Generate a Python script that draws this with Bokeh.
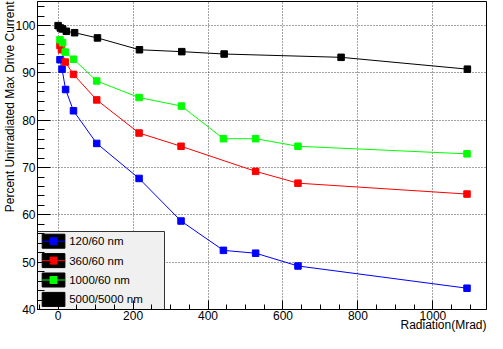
from bokeh.plotting import figure
from bokeh.models import FixedTicker, Range1d, Title
from bokeh.core.properties import value
from bokeh.embed import file_html
from bokeh.resources import INLINE

# ---------------- data ----------------
series_names = ["120/60 nm", "360/60 nm", "1000/60 nm", "5000/5000 nm"]
series_colors = ["#0000ff", "#ff0000", "#00ff00", "#000000"]

dose_120 = [5, 10.5, 20, 41, 103, 216, 328, 441, 527, 640, 1091]
curr_120 = [92.8, 90.8, 86.5, 82.0, 75.1, 67.7, 58.7, 52.5, 51.9, 49.2, 44.5]

dose_360 = [5, 9, 19, 41, 103, 216, 328, 527, 640, 1091]
curr_360 = [95.8, 94.9, 92.3, 89.7, 84.3, 77.3, 74.5, 69.2, 66.7, 64.4]

dose_1000 = [5, 12, 19, 41, 103, 216, 329, 441, 527, 640, 1091]
curr_1000 = [97.0, 96.4, 94.4, 92.9, 88.3, 84.8, 83.0, 76.1, 76.1, 74.5, 72.9]

dose_5000 = [0, 6, 12, 22, 44, 105, 217, 330, 443, 755, 1092]
curr_5000 = [100.0, 99.5, 99.3, 98.8, 98.5, 97.4, 94.9, 94.5, 94.0, 93.3, 90.8]

x_ticks = [0, 200, 400, 600, 800, 1000]
x_minor = list(range(-50, 1150, 50))
y_ticks = [40, 50, 60, 70, 80, 90, 100]
y_minor = list(range(40, 106, 2))

x_title = "Radiation(Mrad)"
y_title = "Percent Unirradiated Max Drive Current"

# ---------------- layout ----------------
X0, X1 = -55.0, 1143.0
Y0, Y1 = 40.0, 105.1
W, H = 487, 333
BL, BR, BT, BB = 37, 1, 1, 24
FONT = "Liberation Sans"

p = figure(width=W, height=H, output_backend="svg", toolbar_location=None,
           x_range=Range1d(X0, X1), y_range=Range1d(Y0, Y1),
           min_border_left=BL, min_border_right=BR,
           min_border_top=BT, min_border_bottom=BB)
p.background_fill_color = "white"
p.border_fill_color = "white"
p.outline_line_color = "black"
p.outline_line_width = 1

p.xaxis.ticker = FixedTicker(ticks=x_ticks, minor_ticks=x_minor)
p.yaxis.ticker = FixedTicker(ticks=y_ticks, minor_ticks=y_minor)
for ax in (p.xaxis[0], p.yaxis[0]):
    ax.axis_line_color = "black"
    ax.major_tick_line_color = "black"
    ax.minor_tick_line_color = "black"
    ax.major_tick_out = 0
    ax.minor_tick_out = 0
    ax.major_label_text_font = FONT
    ax.major_label_text_font_size = "12px"
    ax.major_label_text_color = "black"
p.xaxis.major_tick_in = 9
p.xaxis.minor_tick_in = 5
p.xaxis.major_label_standoff = 1
p.yaxis.major_tick_in = 13
p.yaxis.minor_tick_in = 7
p.yaxis.major_label_standoff = 2

for g in (p.xgrid[0], p.ygrid[0]):
    g.grid_line_color = "#444444"
    g.grid_line_dash = "1 2"
    g.grid_line_width = 1

series = [(dose_120, curr_120), (dose_360, curr_360),
          (dose_1000, curr_1000), (dose_5000, curr_5000)]
for (xs, ys), col in zip(series, series_colors):
    p.line(xs, ys, line_color=col, line_width=1)
    p.scatter(xs, ys, marker="square", size=6.5, fill_color=col, line_color=col)

# ---------------- axis titles ----------------
p.add_layout(Title(text=x_title, align="right", text_font=FONT,
                   text_font_size="12px", text_font_style="normal",
                   text_color="black", standoff=-14, offset=0), "below")
p.add_layout(Title(text=y_title, align="right", text_font=FONT,
                   text_font_size="12px", text_font_style="normal",
                   text_color="black", standoff=-8, offset=0), "left")

# ---------------- legend (ROOT style) ----------------
FW = W - BL - BR
FH = H - BT - BB


def dx(px):
    return X0 + px * (X1 - X0) / FW


def dy(px):
    return Y0 + px * (Y1 - Y0) / FH


box_w, box_h = 127, 78
p.quad(left=[dx(0)], right=[dx(box_w)], bottom=[dy(0)], top=[dy(box_h)],
       fill_color="#f0f0f0", line_color="#333333", line_width=1)
row_c = [68.3, 48.9, 29.5, 10.1]
for name, col, c in zip(series_names, series_colors, row_c):
    p.quad(left=[dx(4.7)], right=[dx(27.4)], bottom=[dy(c - 7)], top=[dy(c + 7)],
           fill_color="black", line_color="black")
    p.segment(x0=[dx(4.7)], y0=[dy(c)], x1=[dx(27.4)], y1=[dy(c)],
              line_color=col, line_width=1)
    p.scatter([dx(16)], [dy(c)], marker="square", size=7, fill_color=col, line_color=col)
    p.text([dx(31.7)], [dy(c)], text=[name], text_font=value(FONT),
           text_font_size=value("11.5px"), text_baseline="middle",
           text_align="left", text_color="black")

open("out.html", "w").write(file_html(p, INLINE))
